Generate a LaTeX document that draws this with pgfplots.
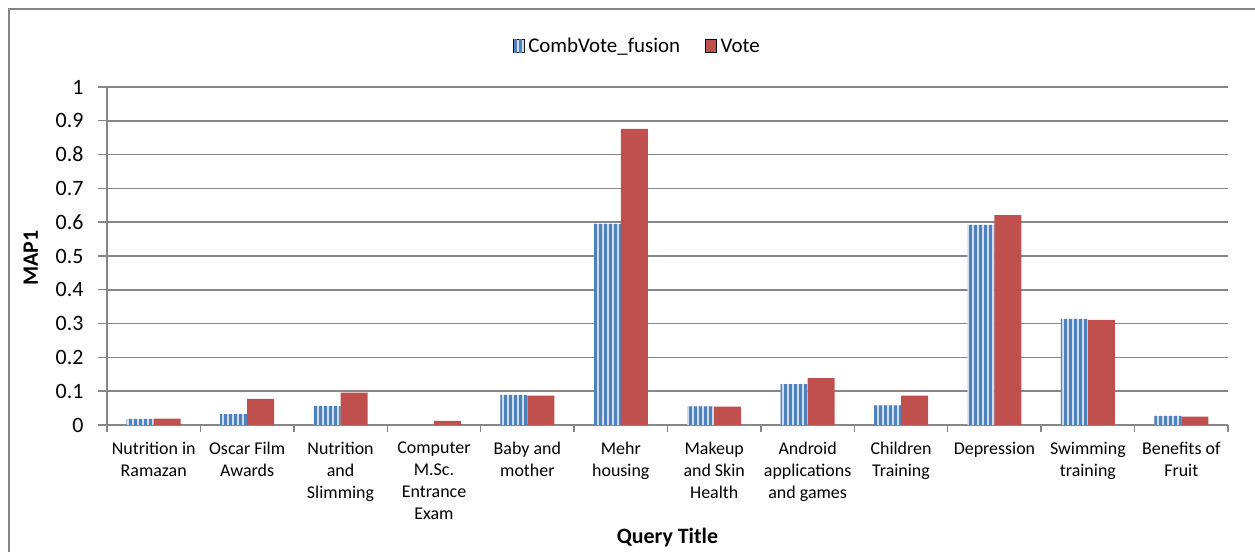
\documentclass[border=0pt]{standalone}
\usepackage{pgfplots}
\pgfplotsset{compat=1.18}
\usepackage{fontspec}
\setmainfont{Carlito}
\usetikzlibrary{patterns.meta}

\definecolor{combdark}{RGB}{79,129,189}
\definecolor{comblight}{RGB}{205,222,242}
\definecolor{votered}{RGB}{192,80,77}
\definecolor{linegray}{RGB}{134,134,134}

\begin{document}
\begin{tikzpicture}
\useasboundingbox (0,0) rectangle (1255bp,552bp);
% chart frame (left and top edges)
\draw[linegray, line width=1.4bp] (9bp,-10bp) -- (9bp,543bp) -- (1270bp,543bp);
\begin{axis}[
  at={(107bp,127bp)}, anchor=south west,
  scale only axis, width=1121bp, height=338bp,
  ybar=0pt, bar width=27bp,
  xmin=-0.5, xmax=11.5, ymin=0, ymax=1,
  axis x line*=bottom, axis y line*=left,
  axis line style={draw=linegray, line width=1.4bp, -},
  ymajorgrids, major grid style={draw=linegray, line width=1.5bp},
  tick align=outside,
  major tick length=9bp, minor tick length=7bp,
  tick style={draw=linegray, line width=1.4bp},
  xtick={0,...,11},
  major x tick style={draw=none},
  minor xtick={-0.5,0.5,...,11.5},
  xticklabels={{Nutrition in\\Ramazan},{Oscar Film\\Awards},{Nutrition\\and\\Slimming},{Computer\\M.Sc.\\Entrance\\Exam},{Baby and\\mother},{Mehr\\housing},{Makeup\\and Skin\\Health},{Android\\applications\\and games},{Children\\Training},{Depression},{Swimming\\training},{Benefits of\\Fruit}},
  xticklabel style={align=center, font=\fontsize{18}{22}\selectfont, inner sep=0pt, yshift=-8bp},
  ytick={0,0.1,...,1},
  yticklabel style={font=\fontsize{22}{26}\selectfont, xshift=-11bp, /pgf/number format/fixed, /pgf/number format/precision=1, /pgf/number format/assume math mode=true},
  xlabel={Query Title}, ylabel={MAP1},
  xlabel style={at={(axis description cs:0.5,-0.334)}, anchor=center, font=\fontsize{22}{26}\selectfont\bfseries},
  ylabel style={at={(axis description cs:-0.068,0.494)}, anchor=center, rotate=0, font=\fontsize{22}{26}\selectfont\bfseries},
  legend columns=2,
  legend style={at={(0.474,1.121)}, anchor=center, draw=none, fill=none,
    font=\fontsize{21}{25}\selectfont, nodes={inner xsep=4bp},
    /tikz/every even column/.append style={column sep=21bp}},
  legend image code/.code={\draw[#1] (0bp,-6.5bp) rectangle (11bp,6.5bp);},
]
\addplot[draw=none, fill=comblight,
  postaction={pattern={Lines[angle=90, distance=5bp, line width=3bp]}, pattern color=combdark}]
  coordinates {(0,0.018) (1,0.032) (2,0.056) (3,0) (4,0.089) (5,0.595)
               (6,0.055) (7,0.121) (8,0.058) (9,0.592) (10,0.314) (11,0.027)};
\addplot[draw=none, fill=votered]
  coordinates {(0,0.019) (1,0.077) (2,0.096) (3,0.012) (4,0.087) (5,0.876)
               (6,0.054) (7,0.139) (8,0.087) (9,0.621) (10,0.311) (11,0.025)};
\legend{CombVote\_fusion, Vote}
\end{axis}
\end{tikzpicture}
\end{document}
